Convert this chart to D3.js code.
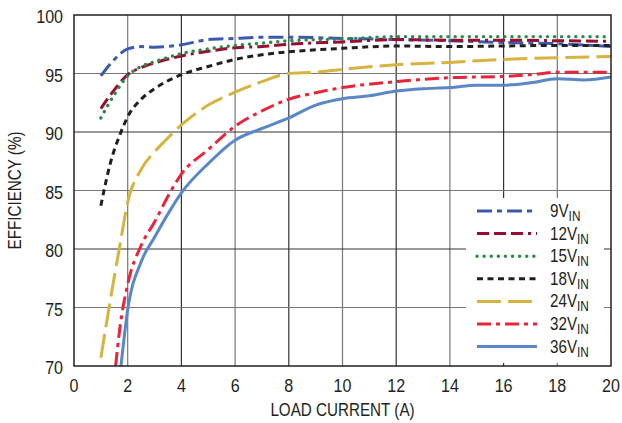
<!DOCTYPE html>
<html>
<head>
<meta charset="utf-8">
<script src="https://cdn.jsdelivr.net/npm/d3@7"></script>
<style>
  body { margin: 0; background: #fff; }
  svg text { font-family: "Liberation Sans", Arial, sans-serif; fill: #231f20; }
</style>
</head>
<body>
<div id="chart"></div>
<script>
const xTicks = [0, 2, 4, 6, 8, 10, 12, 14, 16, 18, 20];
const yTicks = [70, 75, 80, 85, 90, 95, 100];

const v9 = [[1, 94.8], [1.5, 96.2], [2, 97.1], [2.5, 97.3], [3, 97.25], [4, 97.45], [5, 97.9], [6, 98.0], [7, 98.1], [8, 98.1], [10, 98.0], [12, 97.9], [14, 97.8], [16, 97.65], [18, 97.55], [20, 97.3]];
const v12 = [[1, 92.0], [1.5, 93.6], [2, 94.9], [2.5, 95.5], [3, 95.9], [4, 96.5], [5, 96.9], [6, 97.2], [7, 97.3], [8, 97.5], [10, 97.7], [12, 97.9], [14, 97.85], [16, 97.85], [18, 97.8], [20, 97.75]];
const v15 = [[1, 91.2], [1.5, 93.2], [2, 94.8], [2.5, 95.6], [3, 96.0], [4, 96.7], [5, 97.1], [6, 97.4], [7, 97.6], [8, 97.8], [10, 97.95], [12, 98.15], [14, 98.15], [16, 98.15], [18, 98.15], [20, 98.15]];
const v18 = [[1, 83.7], [1.35, 87.3], [1.75, 90.0], [2, 91.3], [2.5, 92.8], [3, 93.7], [4, 94.9], [5, 95.6], [6, 96.2], [7, 96.6], [8, 96.85], [10, 97.15], [12, 97.35], [14, 97.3], [16, 97.35], [18, 97.4], [20, 97.4]];
const v24 = [[1, 70.7], [1.35, 75.6], [1.7, 80.2], [2, 84.0], [2.5, 86.8], [3, 88.3], [3.5, 89.5], [4, 90.6], [5, 92.3], [6, 93.4], [7, 94.3], [8, 95.0], [9, 95.1], [10, 95.35], [12, 95.75], [14, 95.95], [16, 96.2], [18, 96.35], [20, 96.45]];
const v32 = [[1.55, 70], [1.7, 73.1], [2, 77.0], [2.5, 80.3], [3, 82.3], [3.5, 84.5], [4, 86.4], [5, 88.5], [6, 90.5], [7, 91.8], [8, 92.8], [9, 93.35], [10, 93.8], [12, 94.3], [14, 94.65], [16, 94.75], [17, 94.9], [18, 95.1], [20, 95.1]];
const v36 = [[1.75, 70], [2, 74.8], [2.5, 78.9], [3, 81.0], [3.5, 83.0], [4, 84.8], [5, 87.3], [6, 89.3], [7, 90.3], [8, 91.2], [9, 92.3], [10, 92.85], [11, 93.1], [12, 93.5], [13, 93.7], [14, 93.8], [15, 94.0], [16, 94.0], [17, 94.2], [18, 94.55], [19, 94.45], [20, 94.7]];

const seriesNames = ["9", "12", "15", "18", "24", "32", "36"];
const seriesValues = [v9, v12, v15, v18, v24, v32, v36];

const width = 622, height = 423;
const margin = { top: 15, right: 11, bottom: 57, left: 74 };
const plotW = width - margin.left - margin.right;
const plotH = height - margin.top - margin.bottom;
const squeeze = 0.845; // fake a condensed face

// line looks per series
const styles = [
    { color: "#3a5bab", dash: "15,5,5,5" },
    { color: "#9a0d32", dash: "12,5,12,5,12,5,3,5" },
    { color: "#2e8a47", dash: "0.1,7", cap: "round" },
    { color: "#231f20", dash: "6,4.5" },
    { color: "#d6b43f", dash: "24,7" },
    { color: "#e8253b", dash: "14,5,4,5" },
    { color: "#5a87c6", dash: null }
];

const x = d3.scaleLinear().domain([0, 20]).range([0, plotW]);
const y = d3.scaleLinear().domain([70, 100]).range([plotH, 0]);

const svg = d3.select("#chart").append("svg")
    .attr("width", width)
    .attr("height", height);

svg.append("defs").append("clipPath").attr("id", "clip")
    .append("rect").attr("width", plotW).attr("height", plotH);

const g = svg.append("g").attr("transform", `translate(${margin.left},${margin.top})`);

function label(parent, tx, ty, str, size, anchor, rot) {
    return parent.append("text")
        .attr("transform", `translate(${tx},${ty})${rot ? ` rotate(${rot})` : ""} scale(${squeeze},1)`)
        .attr("text-anchor", anchor)
        .style("font-size", size + "px")
        .text(str);
}

// grid
g.append("g").selectAll("line").data(xTicks.slice(1, -1)).enter().append("line")
    .attr("x1", d => x(d)).attr("x2", d => x(d))
    .attr("y1", 0).attr("y2", plotH)
    .attr("stroke", (d, i) => i % 2 ? "#333" : "#777").attr("stroke-width", 1.2);
g.append("g").selectAll("line").data(yTicks.slice(1, -1)).enter().append("line")
    .attr("x1", 0).attr("x2", plotW)
    .attr("y1", d => y(d)).attr("y2", d => y(d))
    .attr("stroke", (d, i) => i % 2 ? "#333" : "#777").attr("stroke-width", 1.2);

// curves
const line = d3.line()
    .x(d => x(d[0]))
    .y(d => y(d[1]))
    .curve(d3.curveMonotoneX);

const curves = g.append("g").attr("clip-path", "url(#clip)");
seriesValues.forEach((vals, i) => {
    curves.append("path")
        .datum(vals)
        .attr("fill", "none")
        .attr("stroke", styles[i].color)
        .attr("stroke-width", styles[i].cap ? 3.4 : 3)
        .attr("stroke-dasharray", styles[i].dash)
        .attr("stroke-linecap", styles[i].cap || "butt")
        .attr("d", line);
});

// frame
g.append("rect")
    .attr("width", plotW).attr("height", plotH)
    .attr("fill", "none").attr("stroke", "#231f20").attr("stroke-width", 1.5);

// tick labels
xTicks.forEach(d => label(g, x(d), plotH + 26, d, 19, "middle"));
yTicks.forEach(d => label(g, -11, y(d) + 8, d, 19, "end"));

// axis titles
label(svg, margin.left + plotW / 2, 416, "LOAD CURRENT (A)", 18, "middle");
label(svg, 21, margin.top + plotH / 2, "EFFICIENCY (%)", 18, "middle", -90);

// legend
const legend = svg.append("g");
legend.append("rect")
    .attr("x", 466).attr("y", 198).attr("width", 138).attr("height", 165)
    .attr("fill", "#fff");
seriesNames.forEach((name, i) => {
    const cy = 211 + i * 22.6;
    legend.append("line")
        .attr("x1", 477).attr("x2", 537)
        .attr("y1", cy).attr("y2", cy)
        .attr("stroke", styles[i].color)
        .attr("stroke-width", styles[i].cap ? 3.4 : 3)
        .attr("stroke-dasharray", styles[i].dash)
        .attr("stroke-linecap", styles[i].cap || "butt");
    const t = label(legend, 550, cy + 6, null, 18, "start");
    t.append("tspan").text(name + "V");
    t.append("tspan").attr("dy", 4).style("font-size", "14px").text("IN");
});
</script>
</body>
</html>
